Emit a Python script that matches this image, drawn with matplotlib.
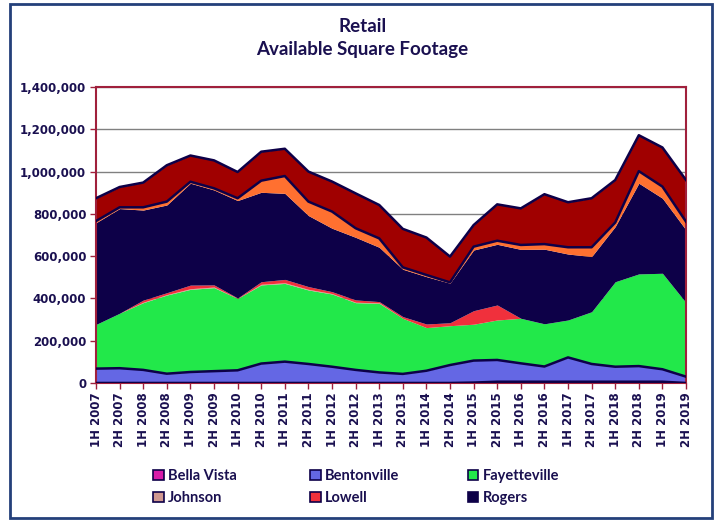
import matplotlib.pyplot as plt
import numpy as np
from matplotlib.patches import Rectangle
from matplotlib.ticker import FuncFormatter

periods = [f"{h} {y}" for y in range(2007, 2020) for h in ("1H", "2H")]

# available square footage, thousands
bella_vista = [0, 0, 0, 0, 0, 0, 0, 0, 0, 0, 0, 0, 0, 0, 0, 0,
               2, 6, 6, 6, 6, 6, 6, 6, 6, 0]
bentonville = [68, 70, 62, 44, 52, 56, 60, 92, 101, 90, 77, 62, 50,
               43, 58, 85, 104, 103, 87, 72, 115, 84, 71, 74, 59, 30]
fayetteville = [209, 260, 318, 372, 391, 395, 340, 372, 370, 350, 344, 318, 327,
                263, 204, 186, 172, 189, 213, 202, 177, 247, 402, 436, 454, 350]
johnson = [0, 0, 2, 2, 3, 3, 0, 3, 3, 3, 2, 2, 2,
           0, 0, 0, 0, 0, 0, 0, 0, 0, 0, 0, 0, 0]
lowell = [0, 0, 10, 9, 17, 10, 2, 12, 16, 13, 9, 11, 6,
          8, 17, 14, 64, 71, 0, 0, 0, 0, 0, 0, 0, 0]
rogers = [481, 495, 426, 415, 482, 449, 461, 423, 407, 336, 300, 296, 257,
          224, 224, 187, 287, 287, 326, 353, 312, 261, 261, 429, 355, 344]
siloam_springs = [8, 6, 13, 16, 7, 8, 11, 55, 82, 66, 79, 43, 42,
                  9, 8, 4, 16, 17, 21, 24, 32, 44, 19, 57, 55, 39]
springdale = [108, 96, 117, 172, 124, 132, 124, 137, 129, 142, 142, 165, 158,
              182, 177, 122, 102, 172, 173, 236, 213, 232, 201, 170, 185, 197]

NAVY = "#0D0048"
TEXT = "#1A1050"
RED = "#A0203C"

series = [
    ("Bella Vista", bella_vista, "#D81BA8", True),
    ("Bentonville", bentonville, "#6467E4", True),
    ("Fayetteville", fayetteville, "#22E84A", False),
    ("Johnson", johnson, "#D09890", False),
    ("Lowell", lowell, "#F0303C", False),
    ("Rogers", rogers, NAVY, False),
    ("Siloam Springs", siloam_springs, "#FF7030", True),
    ("Springdale", springdale, "#A00000", True),
]

fig = plt.figure(figsize=(7.17, 5.22), dpi=100)
ax = fig.add_axes([0.1339, 0.2663, 0.8229, 0.567])

x = np.arange(len(periods))
bottom = np.zeros(len(x))
handles = {}
for name, vals, color, outline in series:
    top = bottom + np.array(vals) * 1000
    ax.fill_between(x, bottom, top, color=color, lw=0, zorder=2)
    if outline:
        ax.plot(x, top, color=NAVY, lw=1.8, zorder=3)
    handles[name] = Rectangle((0, 0), 1, 1, fc=color, ec=NAVY, lw=1.2)
    bottom = top

ax.set_xlim(0, len(x) - 1)
ax.set_ylim(0, 1400000)
ax.set_xticks(x)
ax.set_xticklabels(periods, rotation=90)
ax.set_yticks(range(0, 1400001, 200000))
ax.yaxis.set_major_formatter(FuncFormatter(lambda v, p: f"{v:,.0f}"))
ax.yaxis.grid(True, color="#808080", lw=1)
ax.set_axisbelow(True)
for s in ax.spines.values():
    s.set_color(RED)
    s.set_linewidth(1.5)
ax.tick_params(axis="both", color=RED, labelcolor=TEXT, length=4, width=1, pad=3)
for lab in ax.get_xticklabels() + ax.get_yticklabels():
    lab.set_fontfamily("DejaVu Sans")
    lab.set_fontweight("bold")
    lab.set_fontsize(8.5)

fig.text(0.505, 1 - 27 / 522, "Retail", ha="center", va="center",
         fontsize=13.5, fontweight="bold", color=TEXT, family="Lato")
fig.text(0.505, 1 - 50 / 522, "Available Square Footage", ha="center", va="center",
         fontsize=13.5, fontweight="bold", color=TEXT, family="Lato")

legend_cols = [(["Bella Vista", "Johnson"], 146), (["Bentonville", "Lowell"], 303),
               (["Fayetteville", "Rogers"], 461)]
for names, px in legend_cols:
    fig.legend([handles[n] for n in names], names, loc="upper left",
               bbox_to_anchor=(px / 717, 1 - 462 / 522), frameon=False,
               borderpad=0, handlelength=0.7, handleheight=0.7, handletextpad=0.3,
               labelspacing=0.55, prop={"family": "Lato", "weight": "bold", "size": 10.5},
               labelcolor=TEXT)

fig.add_artist(Rectangle((0.014, 0.0077), 0.979, 0.985, transform=fig.transFigure,
                         fill=False, ec="#24407A", lw=2))

fig.savefig("out.png", dpi=100)
